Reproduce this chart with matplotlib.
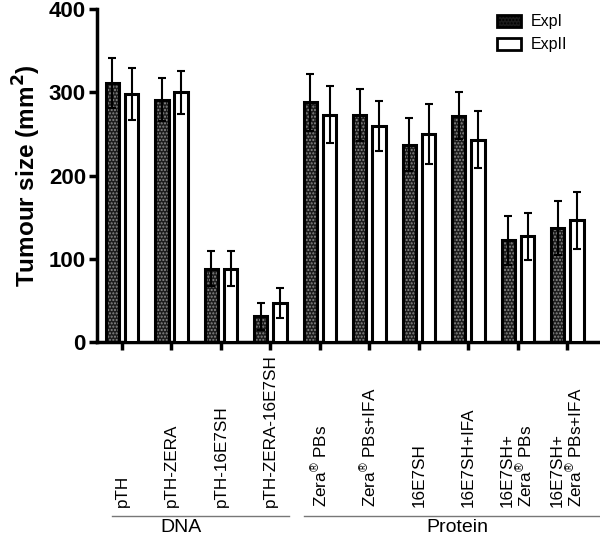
import numpy as np
import matplotlib.pyplot as plt
from matplotlib.patches import Patch
from matplotlib.transforms import blended_transform_factory

plt.rcParams['font.family'] = ['Liberation Sans', 'DejaVu Sans']
plt.rcParams['mathtext.fontset'] = 'custom'
plt.rcParams['mathtext.rm'] = 'Liberation Sans'

# dati
labels = ['pTH', 'pTH-ZERA', 'pTH-16E7SH', 'pTH-ZERA-16E7SH',
          r'Zera$^{\circledR}$ PBs', r'Zera$^{\circledR}$ PBs+IFA',
          '16E7SH', '16E7SH+IFA',
          '16E7SH+\n' + r'Zera$^{\circledR}$ PBs',
          '16E7SH+\n' + r'Zera$^{\circledR}$ PBs+IFA']
exp1 = [311, 291, 88, 31, 288, 273, 237, 272, 122, 137]
exp1_err = [30, 26, 21, 16, 34, 31, 32, 28, 29, 32]
exp2 = [298, 300, 88, 47, 273, 260, 250, 243, 127, 146]
exp2_err = [31, 26, 21, 18, 34, 30, 36, 34, 28, 34]
groups = ['DNA', 'Protein']

x = np.arange(len(labels))
w = 0.27
off = 0.195

fig = plt.figure(figsize=(6, 5.37), dpi=100)
ax = fig.add_axes([0.1617, 0.3631, 0.8383, 0.6201])

# barre ExpI: riempimento puntinato scuro + bordo nero
ax.bar(x - off, exp1, w, color='#1c1c1c', edgecolor='#8a8a8a', hatch='.....', linewidth=0, zorder=2)
ax.bar(x - off, exp1, w, fill=False, edgecolor='black', linewidth=2.2, zorder=3)
ax.bar(x + off, exp2, w, color='white', edgecolor='black', linewidth=2.2, zorder=3)

ax.errorbar(x - off, exp1, yerr=exp1_err, fmt='none', ecolor='black', elinewidth=1.5,
            capsize=3, capthick=1.5, zorder=4)
ax.errorbar(x + off, exp2, yerr=exp2_err, fmt='none', ecolor='black', elinewidth=1.5,
            capsize=3, capthick=1.5, zorder=4)

ax.set_xlim(-0.505, 9.66)
ax.set_ylim(0, 400)
ax.set_yticks([0, 100, 200, 300, 400])
ax.set_xticks(x)
ax.set_xticklabels([])
ax.tick_params(axis='both', width=2.5, length=6, labelsize=16, pad=2)
for t in ax.get_yticklabels():
    t.set_fontweight('bold')
ax.spines['top'].set_visible(False)
ax.spines['right'].set_visible(False)
ax.spines['left'].set_linewidth(2.5)
ax.spines['bottom'].set_linewidth(2.5)
ax.set_ylabel('Tumour size (mm$^{\\mathbf{2}}$)', fontsize=17.5, fontweight='bold', labelpad=4)

# etichette ruotate allineate in basso
tr = blended_transform_factory(ax.transData, fig.transFigure)
for xi, lab in zip(x, labels):
    ax.text(xi, 0.056, lab, rotation=90, ha='center', va='bottom', fontsize=12.3,
            transform=tr, linespacing=1.0, multialignment='left')

# linee dei gruppi
ax.plot([-0.2, 3.38], [0.039, 0.039], color='#777777', lw=1, transform=tr, clip_on=False)
ax.plot([3.67, 9.9], [0.039, 0.039], color='#777777', lw=1, transform=tr, clip_on=False)
ax.text(1.2, 0.001, groups[0], ha='center', va='bottom', fontsize=14, transform=tr)
ax.text(6.78, 0.001, groups[1], ha='center', va='bottom', fontsize=14, transform=tr)

handles = [Patch(facecolor='#1c1c1c', edgecolor='black', hatch='.....', linewidth=2),
           Patch(facecolor='white', edgecolor='black', linewidth=2)]
fig.legend(handles, ['ExpI', 'ExpII'], loc='upper left', bbox_to_anchor=(0.805, 1.0),
           frameon=False, fontsize=11.5, handlelength=1.5, handleheight=0.8,
           labelspacing=0.5, handletextpad=0.6)

fig.savefig('out.png', dpi=100)
